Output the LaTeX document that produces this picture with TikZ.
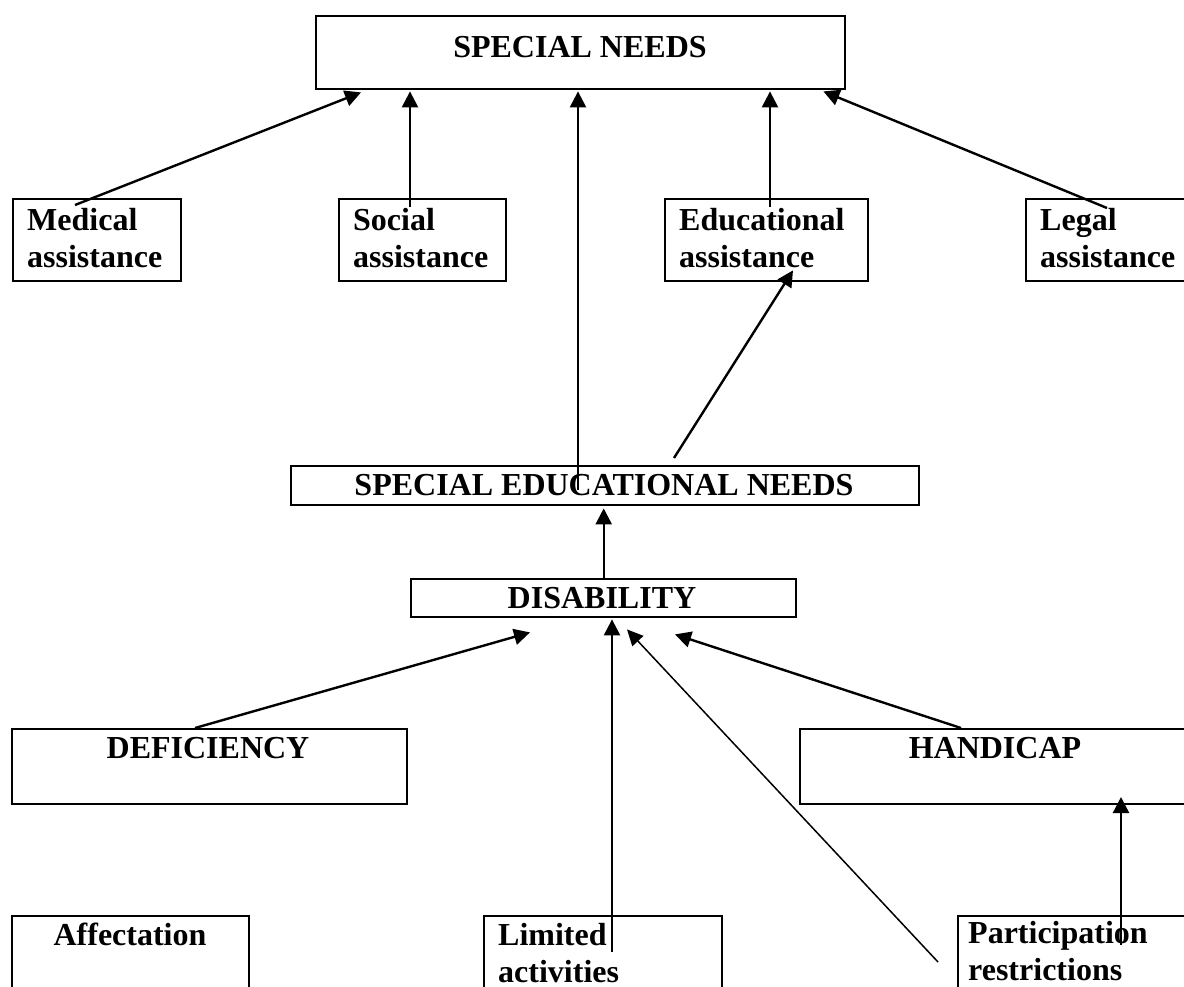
\documentclass[tikz,border=0pt]{standalone}
\usepackage{fontspec}
\setmainfont{Liberation Serif}
\usetikzlibrary{arrows.meta,calc}

\begin{document}
\begin{tikzpicture}[x=1pt,y=-1pt,
	box/.style={draw,line width=2.4pt,anchor=north west,inner sep=0pt},
	txt/.style={font=\fontsize{32}{37}\selectfont\bfseries,inner sep=0pt},
	arr/.style={line width=2.4pt,-{Triangle[length=16pt,width=16pt]}},
	thin arr/.style={line width=1.5pt,-{Triangle[length=16pt,width=15pt]}}]
	\useasboundingbox (0,0) rectangle (1184,986);
	\clip (0,0) rectangle (1184,986);
	\node[box,minimum width=529pt,minimum height=73pt] (sn) at (315,15) {};
	\node[box,minimum width=168pt,minimum height=82pt] (med) at (12,198) {};
	\node[box,minimum width=167pt,minimum height=82pt] (soc) at (338,198) {};
	\node[box,minimum width=203pt,minimum height=82pt] (edu) at (664,198) {};
	\node[box,minimum width=170pt,minimum height=82pt] (leg) at (1025,198) {};
	\node[box,minimum width=628pt,minimum height=39pt] (sen) at (290,465) {};
	\node[box,minimum width=385pt,minimum height=38pt] (dis) at (410,578) {};
	\node[box,minimum width=395pt,minimum height=75pt] (def) at (11,728) {};
	\node[box,minimum width=400pt,minimum height=75pt] (han) at (799,728) {};
	\node[box,minimum width=237pt,minimum height=100pt] (aff) at (11,915) {};
	\node[box,minimum width=238pt,minimum height=100pt] (lim) at (483,915) {};
	\node[box,minimum width=240pt,minimum height=100pt] (par) at (957,915) {};
	\node[txt,anchor=base] (sn-t) at (580,57) {SPECIAL NEEDS};
	\node[txt,anchor=base west,align=left] (med-t) at (27,267) {Medical\\assistance};
	\node[txt,anchor=base west,align=left] (soc-t) at (353,267) {Social\\assistance};
	\node[txt,anchor=base west,align=left] (edu-t) at (679,267) {Educational\\assistance};
	\node[txt,anchor=base west,align=left] (leg-t) at (1040,267) {Legal\\assistance};
	\node[txt,anchor=base] (sen-t) at (604,495) {SPECIAL EDUCATIONAL NEEDS};
	\node[txt,anchor=base] (dis-t) at (602,608) {DISABILITY};
	\node[txt,anchor=base] (def-t) at (208,758) {DEFICIENCY};
	\node[txt,anchor=base] (han-t) at (995,758) {HANDICAP};
	\node[txt,anchor=base] (aff-t) at (130,945) {Affectation};
	\node[txt,anchor=base west,align=left] (lim-t) at (498,982) {Limited\\activities};
	\node[txt,anchor=base west,align=left] (par-t) at (968,980) {Participation\\restrictions};
	\coordinate (sen-out) at ($(sen.north west)+(384,-7)$);
	\coordinate (par-out) at ($(par.north west)+(-19,47)$);
	\draw[arr] ($(med.north west)+(63,7)$) -- ($(sn.south west)+(46,2)$);
	\draw[arr] ($(soc.north west)+(72,9)$) -- ($(sn.south west)+(95,1)$);
	\draw[arr] ($(sen.north west)+(288,25)$) -- ($(sn.south west)+(263,1)$);
	\draw[arr] ($(edu.north west)+(106,9)$) -- ($(sn.south west)+(455,1)$);
	\draw[arr] ($(leg.north west)+(82,10)$) -- ($(sn.south east)+(-23,1)$);
	\draw[arr] (sen-out) -- ($(edu.south west)+(129,-12)$);
	\draw[arr] (dis.north) -- ($(dis.north |- sen.south)+(0,2)$);
	\draw[arr] ($(def.north west)+(184,0)$) -- ($(dis.south west)+(120,14)$);
	\draw[arr] ($(lim.north west)+(129,37)$) -- ($(dis.south west)+(202,1)$);
	\draw[thin arr] (par-out) -- ($(dis.south west)+(217,11)$);
	\draw[arr] ($(han.north west)+(162,0)$) -- ($(dis.south west)+(265,16)$);
	\draw[arr] ($(par.north west)+(164,30)$) -- ($(han.north west)+(322,69)$);
\end{tikzpicture}
\end{document}
